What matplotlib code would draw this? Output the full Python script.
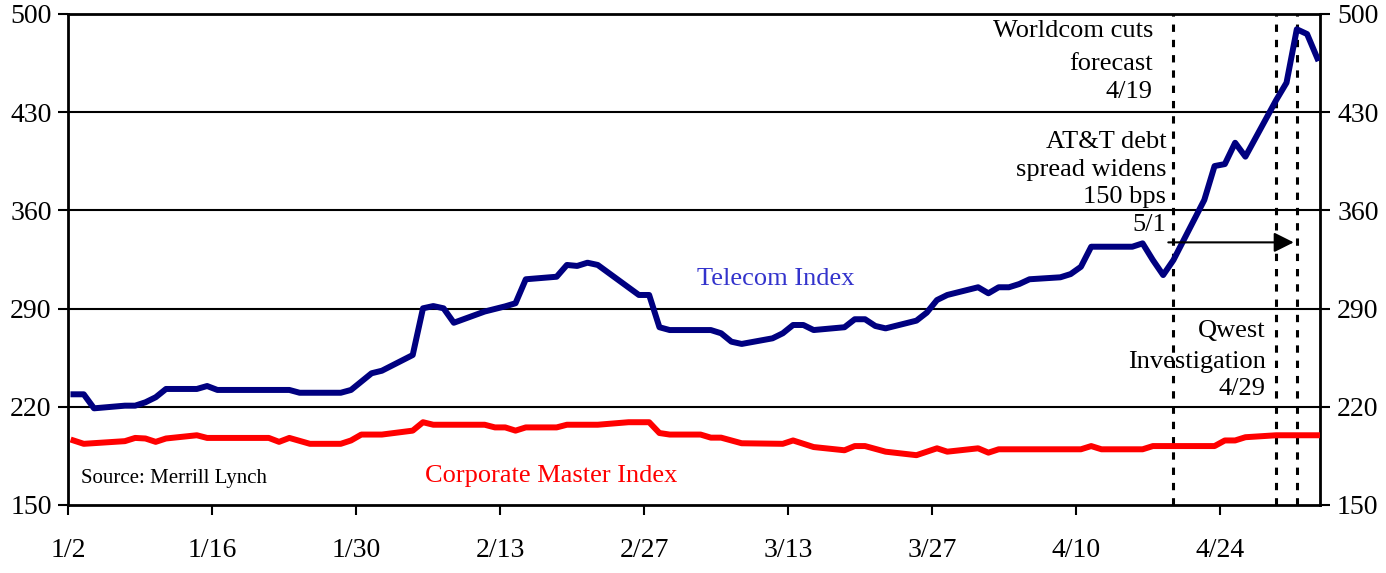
import matplotlib
matplotlib.use("Agg")
import matplotlib.pyplot as plt
from datetime import date

plt.rcParams['font.family'] = ['Liberation Serif', 'DejaVu Serif']

# data (2002), values in index points
telecom_dates = ["1/2", "1/3", "1/4", "1/7", "1/8", "1/9", "1/10", "1/11", "1/14", "1/15",
                 "1/16", "1/23", "1/24", "1/28", "1/29", "1/31", "2/1", "2/4", "2/5", "2/6",
                 "2/7", "2/8", "2/11", "2/13", "2/14", "2/15", "2/18", "2/19", "2/20", "2/21",
                 "2/22", "2/26", "2/27", "2/28", "3/1", "3/5", "3/6", "3/7", "3/8", "3/11",
                 "3/12", "3/13", "3/14", "3/15", "3/18", "3/19", "3/20", "3/21", "3/22", "3/25",
                 "3/26", "3/27", "3/28", "3/31", "4/1", "4/2", "4/3", "4/4", "4/5", "4/8",
                 "4/9", "4/10", "4/11", "4/15", "4/16", "4/17", "4/18", "4/19", "4/22", "4/23",
                 "4/24", "4/25", "4/26", "4/29", "4/30", "5/1", "5/2", "5/3"]
telecom_values = [228.9, 228.9, 218.9, 220.8, 220.8, 223.2, 226.8, 232.7, 232.7, 234.8,
                  232.0, 232.0, 230.0, 230.0, 232.0, 243.9, 245.7, 256.9, 290.2, 291.8,
                  290.2, 279.9, 287.9, 291.6, 293.8, 310.9, 312.7, 321.1, 320.4, 322.7,
                  321.1, 299.7, 299.7, 276.7, 274.7, 274.7, 272.4, 266.4, 264.8, 268.8,
                  272.4, 278.3, 278.3, 274.7, 276.7, 282.4, 282.4, 277.6, 275.9, 281.4,
                  287.1, 296.1, 299.7, 305.2, 300.9, 305.2, 305.2, 307.5, 310.9, 312.3,
                  314.6, 319.8, 334.1, 334.1, 336.5, 324.6, 313.9, 324.6, 367.4, 391.6,
                  393.0, 408.2, 398.3, 438.7, 451.0, 489.1, 485.7, 468.4]

corp_dates = ["1/2", "1/3", "1/7", "1/8", "1/9", "1/10", "1/11", "1/14", "1/15", "1/21",
              "1/22", "1/23", "1/25", "1/28", "1/29", "1/30", "2/1", "2/4", "2/5", "2/6",
              "2/11", "2/12", "2/13", "2/14", "2/15", "2/18", "2/19", "2/22", "2/25", "2/27",
              "2/28", "3/1", "3/4", "3/5", "3/6", "3/8", "3/12", "3/13", "3/15", "3/18",
              "3/19", "3/20", "3/22", "3/25", "3/27", "3/28", "3/31", "4/1", "4/2", "4/10",
              "4/11", "4/12", "4/16", "4/17", "4/23", "4/24", "4/25", "4/26", "4/29", "5/3"]
corp_values = [196.0, 193.6, 195.5, 197.8, 197.4, 195.0, 197.4, 199.7, 197.8, 197.8,
               195.0, 197.8, 193.6, 193.6, 196.0, 200.2, 200.2, 203.0, 209.0, 207.2,
               207.2, 205.3, 205.3, 203.0, 205.3, 205.3, 207.2, 207.2, 209.0, 209.0,
               201.3, 200.2, 200.2, 198.0, 198.0, 194.0, 193.6, 196.0, 191.3, 189.0,
               192.0, 192.0, 188.0, 185.5, 190.4, 188.0, 190.4, 187.3, 189.7, 189.7,
               192.0, 189.7, 189.7, 192.0, 192.0, 196.0, 196.0, 198.3, 199.7, 199.7]

tick_labels = ["1/2", "1/16", "1/30", "2/13", "2/27", "3/13", "3/27", "4/10", "4/24"]
y_ticks = [150, 220, 290, 360, 430, 500]
event_dates = ["4/19", "4/29", "5/1"]

start = date(2002, 1, 2)


def day_num(md):
    m, d = md.split("/")
    return (date(2002, int(m), int(d)) - start).days


# points sit in the middle of each day slot, ticks on the boundaries
tx = [day_num(s) + 0.5 for s in telecom_dates]
cx = [day_num(s) + 0.5 for s in corp_dates]

fig = plt.figure(figsize=(13.86, 5.73), dpi=100)
ax = fig.add_axes([0.0493, 0.1187, 0.9034, 0.8569])

for v in y_ticks[1:-1]:
    ax.axhline(v, color='black', lw=1.5, zorder=1)

for s in event_dates:
    ax.axvline(day_num(s) + 0.5, color='black', lw=2.2, ls=(0, (2.4, 2.6)), zorder=2)

ax.plot(cx, corp_values, color='#FF0000', lw=4.3, zorder=3)
ax.plot(tx, telecom_values, color='#000080', lw=4.3, zorder=4)

ax.annotate("", xy=(119.2, 337.2), xytext=(107.0, 337.2),
            arrowprops=dict(arrowstyle='-|>', color='black', lw=1.5,
                            mutation_scale=30, shrinkA=0, shrinkB=0), zorder=5)

fs = 19
for txt, y in [("Worldcom cuts", 483.3), ("forecast", 460.0), ("4/19", 439.9)]:
    ax.text(105.5, y, txt, ha='right', va='baseline', fontsize=fs)
for txt, y in [("AT&T debt", 404.3), ("spread widens", 384.2), ("150 bps", 365.0), ("5/1", 345.5)]:
    ax.text(106.8, y, txt, ha='right', va='baseline', fontsize=fs)
for txt, y in [("Qwest", 270.0), ("Investigation", 247.4), ("4/29", 228.4)]:
    ax.text(116.5, y, txt, ha='right', va='baseline', fontsize=fs)

ax.text(68.8, 306.8, "Telecom Index", ha='center', va='baseline', fontsize=fs, color='#3333CC')
ax.text(47.0, 166.4, "Corporate Master Index", ha='center', va='baseline', fontsize=fs, color='#FF0000')
ax.text(1.2, 165.8, "Source: Merrill Lynch", ha='left', va='baseline', fontsize=15)

ax.set_xlim(0, 121.8)
ax.set_ylim(150, 500)
ax.set_xticks([day_num(s) for s in tick_labels])
ax.set_xticklabels(tick_labels)
ax.set_yticks(y_ticks)
ax.tick_params(axis='x', direction='out', length=7, width=1.5, pad=17, labelsize=20)
ax.tick_params(axis='y', direction='out', length=7, width=1.5, pad=5, labelsize=20,
               right=True, labelright=True)
for sp in ax.spines.values():
    sp.set_linewidth(2)
    sp.set_color('black')

fig.savefig("out.png", dpi=100)
